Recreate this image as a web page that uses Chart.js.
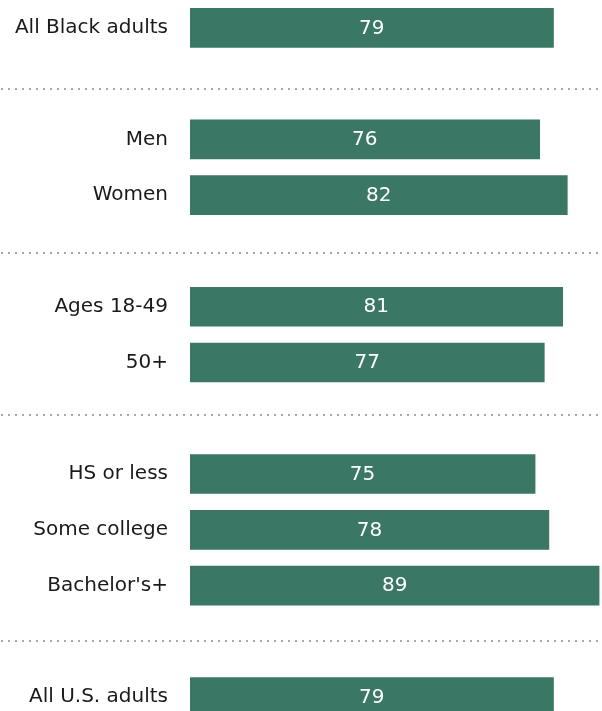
<!DOCTYPE html>
<html>
<head>
<meta charset="utf-8">
<script src="https://cdn.jsdelivr.net/npm/chart.js@4"></script>
<style>
  html, body { margin: 0; padding: 0; background: #fff; overflow: hidden; }
  #wrap { position: absolute; left: 0; top: 0; width: 602px; height: 725px; }
</style>
</head>
<body>
<div id="wrap"><canvas id="chart"></canvas></div>
<script>
// Groups are separated by empty rows; an empty label means a spacer row.
const categories = [
  'All Black adults', '',
  'Men', 'Women', '',
  'Ages 18-49', '50+', '',
  'HS or less', 'Some college', "Bachelor's+", '',
  'All U.S. adults'
];
const values = [79, null, 76, 82, null, 81, 77, null, 75, 78, 89, null, 79];

const FONT = '"DejaVu Sans", sans-serif';
const BAR_COLOR = '#3a7764';

// Dotted rules between the groups, placed on the spacer rows of the y scale.
const dividerPlugin = {
  id: 'dividers',
  afterDraw(chart, args, opts) {
    const { ctx } = chart;
    const yScale = chart.scales.y;
    ctx.save();
    ctx.strokeStyle = opts.color;
    ctx.lineWidth = 2;
    ctx.setLineDash([2, 5]);
    opts.rows.forEach(r => {
      const i = Math.floor(r);
      const y0 = yScale.getPixelForValue(i);
      const y1 = yScale.getPixelForValue(i + 1);
      const y = Math.round(y0 + (y1 - y0) * (r - i));
      ctx.beginPath();
      ctx.moveTo(1, y);
      ctx.lineTo(chart.width, y);
      ctx.stroke();
    });
    ctx.restore();
  }
};

// Value printed in the middle of each bar.
const valueLabelPlugin = {
  id: 'valueLabels',
  afterDatasetsDraw(chart) {
    const { ctx } = chart;
    const meta = chart.getDatasetMeta(0);
    ctx.save();
    ctx.fillStyle = '#ffffff';
    ctx.font = '20px ' + FONT;
    ctx.textAlign = 'center';
    ctx.textBaseline = 'middle';
    meta.data.forEach((bar, i) => {
      const v = values[i];
      if (v === null || v === undefined) return;
      const x = (bar.x + bar.base) / 2;
      ctx.fillText(String(v), x, bar.y + 0.5);
    });
    ctx.restore();
  }
};

new Chart(document.getElementById('chart'), {
  type: 'bar',
  data: {
    labels: categories,
    datasets: [{
      data: values,
      backgroundColor: BAR_COLOR,
      borderWidth: 0,
      barThickness: 39
    }]
  },
  options: {
    indexAxis: 'y',
    responsive: true,
    maintainAspectRatio: false,
    animation: false,
    layout: { padding: { left: 0, right: 2.5, top: 0, bottom: 0 } },
    plugins: {
      legend: { display: false },
      tooltip: { enabled: false },
      dividers: { rows: [1.1, 4.04, 6.94, 11.0], color: '#a8a8a8' }
    },
    scales: {
      x: {
        display: false,
        min: 0,
        max: 89
      },
      y: {
        grid: { display: false, drawTicks: false },
        border: { display: false },
        ticks: {
          color: '#1a1a1a',
          font: { family: FONT, size: 20 },
          padding: 22,
          autoSkip: false
        },
        afterFit(scale) {
          scale.width = 190;
          // rows fill the full height; no extra room for edge labels
          scale.paddingTop = 0;
          scale.paddingBottom = 0;
        }
      }
    }
  },
  plugins: [dividerPlugin, valueLabelPlugin]
});
</script>
</body>
</html>
